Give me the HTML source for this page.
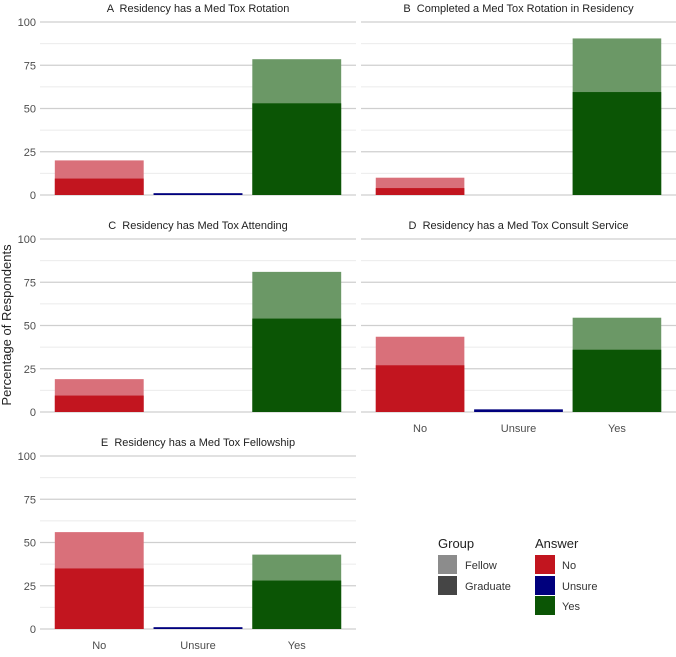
<!DOCTYPE html>
<html><head><meta charset="utf-8"><style>
body{margin:0;background:#fff;font-family:"Liberation Sans",sans-serif}
svg text{font-family:"Liberation Sans",sans-serif;white-space:pre}
</style></head><body>
<svg id="c" width="676" height="652" xmlns="http://www.w3.org/2000/svg">
<text x="11" y="325" transform="rotate(-90 11 325)" text-anchor="middle" font-size="13" fill="#222">Percentage of Respondents</text>
<g>
<text x="438" y="548" font-size="13" fill="#222">Group</text>
<rect x="438" y="555" width="19" height="19" fill="#8c8c8c"/>
<text x="465" y="569" font-size="11" fill="#333">Fellow</text>
<rect x="438" y="576" width="19" height="19" fill="#454545"/>
<text x="465" y="590" font-size="11" fill="#333">Graduate</text>
<text x="535" y="548" font-size="13" fill="#222">Answer</text>
<rect x="535" y="555" width="20" height="19" fill="#c2151f"/>
<text x="562" y="569" font-size="11" fill="#333">No</text>
<rect x="535" y="576" width="20" height="19" fill="#00007d"/>
<text x="562" y="590" font-size="11" fill="#333">Unsure</text>
<rect x="535" y="596" width="20" height="19" fill="#0b5505"/>
<text x="562" y="610" font-size="11" fill="#333">Yes</text>
</g>
</svg>
<script>
const categories=["No","Unsure","Yes"];
const panelTitles=["A  Residency has a Med Tox Rotation","B  Completed a Med Tox Rotation in Residency","C  Residency has Med Tox Attending","D  Residency has a Med Tox Consult Service","E  Residency has a Med Tox Fellowship"];
const totalValues=[[20,1,78.5],[10,0,90.5],[19,0,81],[43.5,1.5,54.5],[56,1,43]];
const graduateValues=[[9.5,1,53],[4,0,59.5],[9.5,0,54],[27,1.5,36],[35,1,28]];
const yTicks=[0,25,50,75,100];
const NS="http://www.w3.org/2000/svg";
const svg=document.getElementById('c');
const light={No:"#d9707a",Unsure:"#4d4da6",Yes:"#6b9866"};
const dark={No:"#c2151f",Unsure:"#00007d",Yes:"#0b5505"};
function mk(t,a,p){const e=document.createElementNS(NS,t);for(const k in a)e.setAttribute(k,a[k]);(p||svg).appendChild(e);return e;}
const panels=[{x0:40,x1:356,top:22,bot:195},{x0:361,x1:676,top:22,bot:195},{x0:40,x1:356,top:239,bot:412},{x0:361,x1:676,top:239,bot:412},{x0:40,x1:356,top:456,bot:629}];
panels.forEach((p,i)=>{
  const g=mk('g',{});
  
  
  const y=v=>p.bot-(v/100)*(p.bot-p.top);
  const unit=(p.x1-p.x0)/3.2;
  const xc=k=>p.x0+unit*(0.6+k);
  for(let v=12.5;v<100;v+=25){const l=mk('line',{x1:p.x0,x2:p.x1,y1:y(v),y2:y(v),stroke:"#ebebeb","stroke-width":1},g);}
  yTicks.forEach(v=>{const l=mk('line',{x1:p.x0,x2:p.x1,y1:y(v),y2:y(v),stroke:"#cfcfcf","stroke-width":1.2},g);
    if(p.x0<100){const t=mk('text',{x:p.x0-4,y:y(v)+4,"text-anchor":"end","font-size":"11",fill:"#4d4d4d"},g);t.textContent=v;}});
  const tt=mk('text',{x:(p.x0+p.x1)/2,y:p.top-10,"text-anchor":"middle","font-size":"11",fill:"#222"},g);tt.textContent=panelTitles[i];
  
  categories.forEach((c,k)=>{
    const w=unit*0.9,x=xc(k)-w/2;
    const tv=totalValues[i][k],gv=graduateValues[i][k];
    if(tv>0){const r=mk('rect',{x:x,y:y(tv),width:w,height:y(0)-y(tv),fill:light[c]},g);}
    if(gv>0){const r=mk('rect',{x:x,y:y(gv),width:w,height:y(0)-y(gv),fill:dark[c]},g);}
    if(i>=3){const t=mk('text',{x:xc(k),y:p.bot+20,"text-anchor":"middle","font-size":"11",fill:"#4d4d4d"},g);t.textContent=c;}
  });
});
</script>
</body></html>
